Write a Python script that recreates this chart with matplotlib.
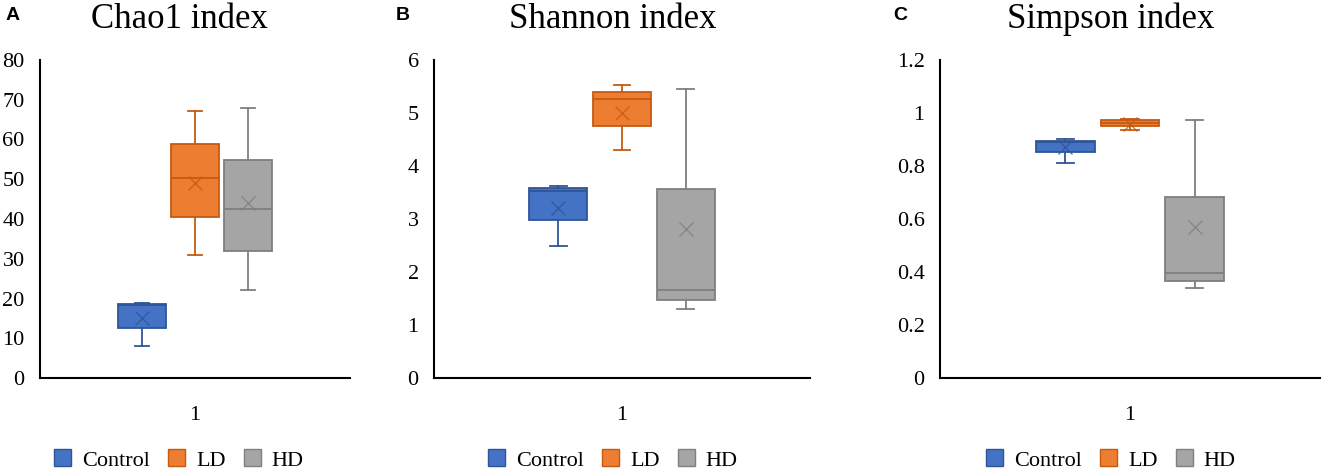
import matplotlib
matplotlib.use("Agg")
import matplotlib.pyplot as plt
from matplotlib.patches import Patch
from matplotlib.ticker import FuncFormatter

plt.rcParams['font.family'] = ['Liberation Serif', 'DejaVu Serif']

groups = ['Control', 'LD', 'HD']
fills = ['#4472C4', '#ED7D31', '#A5A5A5']
edges = ['#2F5597', '#C55A11', '#7F7F7F']

# box statistics (Control, LD, HD)
chao1_lo = [8.0, 31.0, 22.1]
chao1_q1 = [12.7, 40.4, 32.0]
chao1_med = [18.4, 50.3, 42.4]
chao1_q3 = [18.5, 58.8, 54.9]
chao1_hi = [18.8, 67.2, 68.0]
chao1_mean = [15.2, 49.1, 44.1]

shannon_lo = [2.50, 4.30, 1.31]
shannon_q1 = [2.99, 4.75, 1.48]
shannon_med = [3.53, 5.26, 1.66]
shannon_q3 = [3.59, 5.39, 3.56]
shannon_hi = [3.63, 5.53, 5.45]
shannon_mean = [3.21, 5.00, 2.82]

simpson_lo = [0.81, 0.934, 0.34]
simpson_q1 = [0.852, 0.950, 0.367]
simpson_med = [0.89, 0.962, 0.395]
simpson_q3 = [0.896, 0.974, 0.683]
simpson_hi = [0.902, 0.976, 0.974]
simpson_mean = [0.87, 0.957, 0.571]

panels = [
    dict(letter='A', title='Chao1 index', ymax=80, step=10,
         stats=(chao1_lo, chao1_q1, chao1_med, chao1_q3, chao1_hi, chao1_mean)),
    dict(letter='B', title='Shannon index', ymax=6, step=1,
         stats=(shannon_lo, shannon_q1, shannon_med, shannon_q3, shannon_hi, shannon_mean)),
    dict(letter='C', title='Simpson index', ymax=1.2, step=0.2,
         stats=(simpson_lo, simpson_q1, simpson_med, simpson_q3, simpson_hi, simpson_mean)),
]

W, H = 1325, 474
fig = plt.figure(figsize=(W / 100, H / 100), dpi=100)

# axes extents in pixels (left, right), shared top/bottom
ax_px = [(40, 350), (434, 810), (940, 1320)]
center_px = [179, 613, 1111]
letter_px = [13, 403, 900]
top_px, bot_px = 60, 378

spacing = 0.17
box_w = 0.155

for p, (l, r), cx, lx in zip(panels, ax_px, center_px, letter_px):
    ax = fig.add_axes([l / W, 1 - bot_px / H, (r - l) / W, (bot_px - top_px) / H])
    lo, q1, med, q3, hi, mean = p['stats']
    for i in range(3):
        st = [dict(whislo=lo[i], q1=q1[i], med=med[i], q3=q3[i], whishi=hi[i],
                   mean=mean[i], fliers=[])]
        pos = 1 + (i - 1) * spacing
        ax.bxp(st, positions=[pos], widths=box_w, capwidths=0.045,
               patch_artist=True, showmeans=True,
               boxprops=dict(facecolor=fills[i], edgecolor=edges[i], linewidth=1.3),
               medianprops=dict(color=edges[i], linewidth=1.3),
               whiskerprops=dict(color=edges[i], linewidth=1.3),
               capprops=dict(color=edges[i], linewidth=1.3),
               meanprops=dict(marker='x', markeredgecolor=edges[i], markersize=10,
                              markeredgewidth=1.0, alpha=0.8))
    ax.set_xlim(0.5, 1.5)
    ax.set_ylim(0, p['ymax'])
    n = int(round(p['ymax'] / p['step']))
    ax.set_yticks([k * p['step'] for k in range(n + 1)])
    ax.yaxis.set_major_formatter(FuncFormatter(lambda v, _: f'{v:g}'))
    ax.set_xticks([1])
    ax.set_xticklabels(['1'])
    ax.tick_params(axis='both', length=0, labelsize=16)
    ax.tick_params(axis='y', pad=11)
    ax.tick_params(axis='x', pad=20)
    for s in ['top', 'right']:
        ax.spines[s].set_visible(False)
    for s in ['left', 'bottom']:
        ax.spines[s].set_linewidth(1.5)
        ax.spines[s].set_color('black')

    fig.text(cx / W, 1 - 19 / H, p['title'], ha='center', va='center', fontsize=25)
    fig.text(lx / W, 1 - 16 / H, p['letter'], ha='center', va='center', fontsize=14,
             fontweight='bold', family='Liberation Sans')

    handles = [Patch(facecolor=f, edgecolor=e, linewidth=1.0) for f, e in zip(fills, edges)]
    fig.legend(handles, groups, loc='center', bbox_to_anchor=(cx / W, 1 - 460 / H),
               ncol=3, frameon=False, fontsize=16, handlelength=0.77, handleheight=0.77,
               handletextpad=0.5, columnspacing=0.8, borderpad=0)

fig.savefig('out.png', dpi=100)
